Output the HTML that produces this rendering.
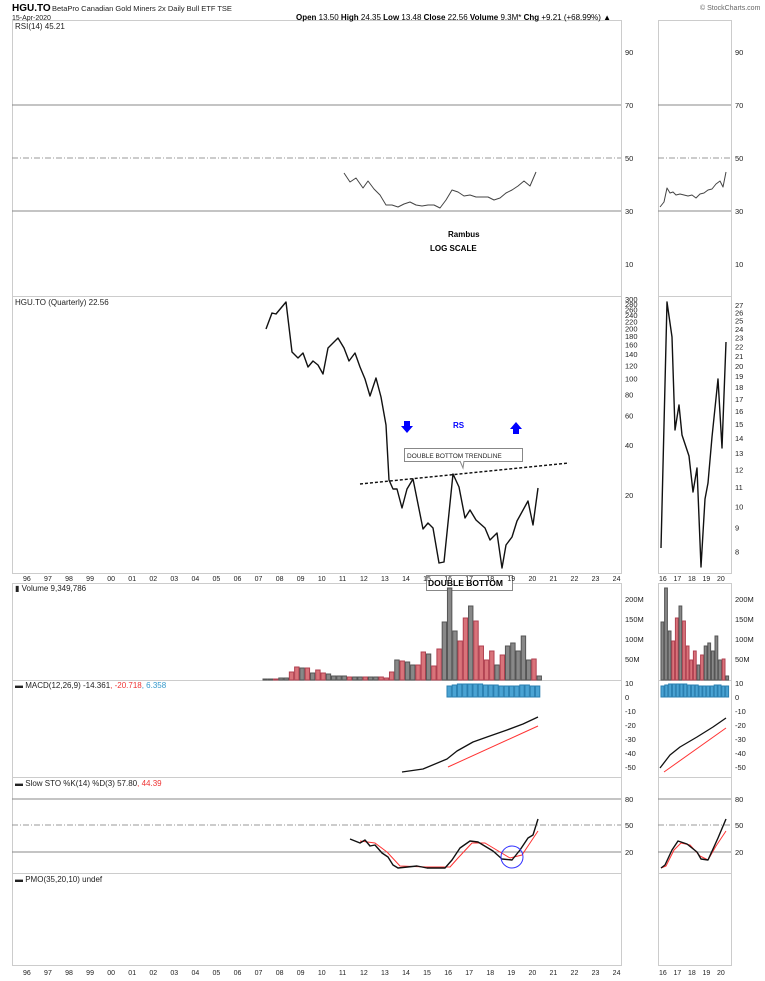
<!DOCTYPE html>
<html><head><meta charset="utf-8"><style>
body{margin:0;background:#fff;width:765px;height:981px;overflow:hidden}
svg{display:block;font-family:"Liberation Sans",sans-serif}
</style></head><body>
<svg id="s" width="765" height="981" xmlns="http://www.w3.org/2000/svg"></svg>
<script>
var S='';
function L(x1,y1,x2,y2,c,w,d){S+='<line x1="'+x1+'" y1="'+y1+'" x2="'+x2+'" y2="'+y2+'" stroke="'+c+'" stroke-width="'+(w||1)+'"'+(d?' stroke-dasharray="'+d+'"':'')+'/>';}
function R(x,y,w,h,f,s){S+='<rect x="'+x+'" y="'+y+'" width="'+w+'" height="'+h+'" fill="'+f+'"'+(s?' stroke="'+s+'" stroke-width="1"':'')+'/>';}
function T(x,y,t,sz,c,ex){S+='<text x="'+x+'" y="'+y+'" font-size="'+(sz||8)+'" fill="'+(c||'#222')+'" '+(ex||'')+'>'+t+'</text>';}
function P(pts,c,w){S+='<polyline fill="none" stroke="'+c+'" stroke-width="'+(w||1.4)+'" stroke-linejoin="round" points="'+pts+'"/>';}
var ML=12,MR=621,SL=658,SR=731;
var panels=[[20,296],[296,573],[583,680],[680,777],[777,873],[873,965]];
panels.forEach(function(p){R(ML+.5,p[0]+.5,MR-ML,p[1]-p[0],'none','#ccc');R(SL+.5,p[0]+.5,SR-SL,p[1]-p[0],'none','#ccc');});
T(12,11,'HGU.TO',10,'#000','font-weight="bold"');T(52,11,'BetaPro Canadian Gold Miners 2x Daily Bull ETF  TSE',7.5,'#222');
T(12,20,'15-Apr-2020',7,'#222');T(700,10,'© StockCharts.com',7,'#666');
T(296,20,'<tspan font-weight="bold">Open</tspan> 13.50 <tspan font-weight="bold">High</tspan> 24.35 <tspan font-weight="bold">Low</tspan> 13.48 <tspan font-weight="bold">Close</tspan> 22.56 <tspan font-weight="bold">Volume</tspan> 9.3M* <tspan font-weight="bold">Chg</tspan> +9.21 (+68.99%) ▲',8,'#000');
function ry(v){return 158-(v-50)*2.65;}
[90,70,50,30,10].forEach(function(v){T(625,ry(v)+3,v,7.5);T(735,ry(v)+3,v,7.5);
 if(v==70||v==30){L(ML,ry(v),MR,ry(v),'#888');L(SL,ry(v),SR,ry(v),'#888');}
 if(v==50){L(ML,ry(v),MR,ry(v),'#999',1,'6,2,1,2');L(SL,ry(v),SR,ry(v),'#999',1,'6,2,1,2');}});
T(15,29,'RSI(14) 45.21',8,'#222');
P('344,173 350,182 356,178 363,188 368,181 374,189 380,195 386,205 392,205 398,207 404,204 410,202 416,205 422,206 428,205 434,205 440,208 446,200 452,190 458,192 464,196 470,195 476,197 482,197 488,197 494,200 500,198 506,193 512,190 518,186 524,181 530,186 536,172','#444',1);
P('660,207 664,202 667,188 670,193 673,192 676,195 680,194 684,195 688,196 692,195 696,198 700,194 704,193 708,190 712,189 716,184 720,181 723,187 726,172','#444',1);
T(448,237,'Rambus',8,'#000','font-weight="bold"');T(430,251,'LOG SCALE',8,'#000','font-weight="bold"');
function py(v){return 299+72.4*Math.log(300/v);}
[300,280,260,240,220,200,180,160,140,120,100,80,60,40,20].forEach(function(v){T(625,py(v)+3,v,7.5);});
function sy(v){return 305+202.7*Math.log(27/v);}
for(var v=8;v<=27;v++)T(735,sy(v)+3,v,7.5);
T(15,305,'HGU.TO (Quarterly) 22.56',8,'#222');
P('266,329 272,313 276,314 286,302 292,352 298,358 303,353 308,367 313,361 318,365 323,374 328,348 333,343 338,338 344,348 349,361 355,353 360,367 365,379 370,396 376,378 381,397 386,425 389,480 393,489 397,489 402,508 407,489 413,479 423,529 428,523 433,528 439,563 444,562 453,474 459,487 465,518 470,510 476,520 485,528 490,540 497,533 502,568 506,545 512,537 517,521 528,501 533,525 538,488','#111',1.4);
P('661,548 667,302 672,337 675,430 679,405 682,435 689,456 693,492 697,468 701,567 705,499 708,483 712,437 718,379 722,448 726,342','#111',1.4);
L(360,484,569,463,'#111',1.4,'3,2');
R(404.5,448.5,118,13,'#fff','#888');T(407,458,'DOUBLE BOTTOM TRENDLINE',6.5,'#222');
S+='<path d="M460,461 L463,468 L464,461" fill="#fff" stroke="#888"/>';
T(453,428,'RS',8,'#00f','font-weight="bold"');
S+='<path d="M404,421h6v5h3l-6,7l-6,-7h3z" fill="#00f"/><path d="M513,434h6v-5h3l-6,-7l-6,7h3z" fill="#00f"/>';
R(426.5,575.5,86,15,'#fff','#888');T(428,586,'DOUBLE BOTTOM',8.5,'#000','font-weight="bold"');
var yrs=['96','97','98','99','00','01','02','03','04','05','06','07','08','09','10','11','12','13','14','15','16','17','18','19','20','21','22','23','24'];
yrs.forEach(function(y,i){var x=28+21.06*i;T(x-5,581,y,7);T(x-5,975,y,7);});
['16','17','18','19','20'].forEach(function(y,i){var x=663+14.5*i;T(x-4,581,y,7);T(x-4,975,y,7);});
function vy(m){return 679-m*0.4;}
[200,150,100,50].forEach(function(v){T(625,vy(v)+3,v+'M',7.5);T(735,vy(v)+3,v+'M',7.5);});
T(15,591,'▮ Volume 9,349,786',8,'#222');
var vb='679g679g679r678g678g672r667r668g668r673g670r673r674g676g676g676g677r677g677g677r677g677g677r678r672r660g661r662g665g665r652r654g666r649r622g588g631g641r618r606g621r646r660r651r665g655r646g643g651g636g660g659r676g'.match(/\d+[rg]/g);
vb.forEach(function(b,i){var y=+b.slice(0,-1),c=b.slice(-1)=='r'?'#d9737a':'#888',sc=b.slice(-1)=='r'?'#b04050':'#555';
 var x=263+5.27*i;R(x,y,4.4,680-y,c,sc);
 if(i>=34){var xs=661+3.6*(i-34);R(xs,y,2.8,680-y,c,sc);}});
function my(v){return 697-v*1.4;}
[10,0,-10,-20,-30,-40,-50].forEach(function(v){T(625,my(v)+3,v,7.5);T(735,my(v)+3,v,7.5);});
T(15,688,'▬ MACD(12,26,9) -14.361<tspan fill="#e33">, -20.718</tspan><tspan fill="#39c">, 6.358</tspan>',8,'#222');
var hh=[686,685,684,684,684,684,684,685,685,685,686,686,686,686,685,685,686,686];
hh.forEach(function(y,i){R(447+5.2*i,y,4.4,697-y,'#4aa3d3','#2a7fb0');R(661+3.8*i,y,3,697-y,'#4aa3d3','#2a7fb0');});
P('402,772 423,769 447,759 457,751 473,742 487,737 507,730 523,724 538,717','#111',1.3);
P('448,767 538,726','#f33',1);
P('660,768 670,755 680,747 697,737 713,727 726,718','#111',1.3);
P('664,772 726,728','#f33',1);
[[80,799,'s'],[50,825,'d'],[20,852,'s']].forEach(function(a){T(625,a[1]+3,a[0],7.5);T(735,a[1]+3,a[0],7.5);
 L(ML,a[1],MR,a[1],a[2]=='d'?'#999':'#888',1,a[2]=='d'?'6,2,1,2':null);L(SL,a[1],SR,a[1],a[2]=='d'?'#999':'#888',1,a[2]=='d'?'6,2,1,2':null);});
T(15,786,'▬ Slow STO %K(14) %D(3) 57.80<tspan fill="#e33">, 44.39</tspan>',8,'#222');
P('360,841 375,843 387,852 400,866 427,867 450,867 458,858 472,843 485,843 510,858 522,855 538,831','#f33',1);
P('350,839 360,843 365,840 370,846 375,845 382,853 388,857 393,865 398,868 417,866 427,868 445,868 452,860 460,848 470,841 478,842 493,851 502,859 512,860 520,850 528,838 533,835 538,819','#111',1.4);
P('661,868 666,866 674,850 681,843 690,845 700,856 708,860 716,846 726,831','#f33',1);
P('661,868 665,865 672,850 678,841 687,844 697,852 701,859 708,860 718,838 726,819','#111',1.4);
S+='<circle cx="512" cy="857" r="11" fill="none" stroke="#33f" stroke-width="1"/>';
T(15,882,'▬ PMO(35,20,10) undef',8,'#222');
document.getElementById('s').innerHTML=S;
</script>
</body></html>
